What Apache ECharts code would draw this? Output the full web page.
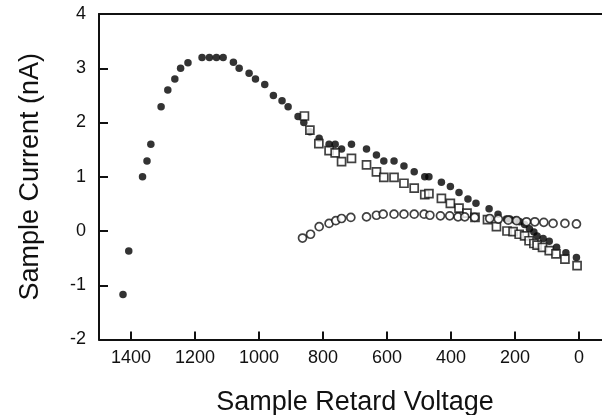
<!DOCTYPE html>
<html>
<head>
<meta charset="utf-8">
<script src="https://cdn.jsdelivr.net/npm/echarts@6/dist/echarts.min.js"></script>
<style>html,body{margin:0;padding:0;background:#fff;}#c{width:602px;height:415px;}</style>
</head>
<body>
<div id="c"></div>
<script>
// Series A (filled circles)
var aVolt = [1425,1407,1364,1350,1338,1306,1285,1263,1245,1222,1178,1155,1133,1112,1080,1062,1031,1011,982,955,928,909,878,860,841,812,781,762,742,711,664,633,610,578,547,515,482,469,430,402,375,347,322,281,253,227,216,200,185,170,155,141,131,112,93,70,41,8];
var aCurr = [-1.17,-0.37,1.0,1.29,1.6,2.29,2.6,2.8,3.0,3.1,3.2,3.2,3.2,3.2,3.11,3.0,2.91,2.8,2.7,2.5,2.4,2.29,2.11,2.0,1.83,1.71,1.6,1.6,1.51,1.6,1.51,1.4,1.29,1.29,1.2,1.09,1.0,1.0,0.9,0.82,0.71,0.59,0.51,0.41,0.31,0.22,0.22,0.2,0.17,0.12,0.04,-0.02,-0.09,-0.14,-0.19,-0.3,-0.4,-0.49];
// Series B (open squares)
var bVolt = [858,841,813,781,762,742,711,664,633,610,578,547,515,482,469,430,402,375,350,325,286,258,225,206,187,170,156,141,131,114,93,72,44,6];
var bCurr = [2.12,1.86,1.61,1.48,1.44,1.28,1.34,1.22,1.09,0.99,0.99,0.88,0.79,0.67,0.69,0.6,0.51,0.42,0.33,0.25,0.21,0.08,0.0,-0.01,-0.06,-0.09,-0.18,-0.23,-0.26,-0.3,-0.36,-0.42,-0.52,-0.64];
// Series C (open circles)
var cVolt = [864,839,812,781,760,742,713,664,633,612,578,547,515,484,466,433,404,378,357,326,279,252,221,195,164,138,110,81,44,8];
var cCurr = [-0.13,-0.06,0.08,0.14,0.19,0.23,0.25,0.26,0.29,0.31,0.31,0.31,0.31,0.31,0.29,0.28,0.28,0.26,0.26,0.25,0.23,0.22,0.2,0.19,0.17,0.17,0.16,0.14,0.14,0.13];
// Axis ticks
var xTicks = [0,200,400,600,800,1000,1200,1400];
var yTicks = [-2,-1,0,1,2,3,4];

function zip(xs, ys){ return xs.map(function(x,i){ return [x, ys[i]]; }); }

var FONT = '"Liberation Sans", Arial, sans-serif';
var chart = echarts.init(document.getElementById('c'), null, {renderer:'canvas'});
var axisLineStyle = {color:'#111', width:2};
chart.setOption({
  animation:false,
  backgroundColor:'#fff',
  grid:{left:99, top:14, width:512, height:325.5, containLabel:false, outerBoundsMode:'none'},
  xAxis:[{
    type:'value', inverse:true, min:-100, max:1500,
    name:'Sample Retard Voltage', nameLocation:'middle', nameGap:50,
    nameTextStyle:{fontFamily:FONT, fontSize:27, color:'#111'},
    axisLine:{show:true, onZero:false, lineStyle:axisLineStyle},
    axisTick:{show:true, inside:true, length:8, lineStyle:axisLineStyle, customValues:xTicks},
    axisLabel:{fontFamily:FONT, fontSize:18, color:'#111', margin:10, customValues:xTicks,
      formatter:function(v){ return String(v); }},
    splitLine:{show:false}
  },{
    type:'value', inverse:true, min:-100, max:1500, position:'top',
    axisLine:{show:true, onZero:false, lineStyle:axisLineStyle},
    axisTick:{show:false}, axisLabel:{show:false}, splitLine:{show:false}
  }],
  yAxis:[{
    type:'value', min:-2, max:4, interval:1,
    name:'Sample Current (nA)', nameLocation:'middle', nameGap:55,
    nameTextStyle:{fontFamily:FONT, fontSize:27, color:'#111'},
    axisLine:{show:true, onZero:false, lineStyle:axisLineStyle},
    axisTick:{show:true, inside:true, length:9, lineStyle:axisLineStyle},
    axisLabel:{fontFamily:FONT, fontSize:18, color:'#111', margin:13,
      formatter:function(v){ return String(v); }},
    splitLine:{show:false}
  },{
    type:'value', min:-2, max:4, interval:1, position:'right',
    axisLine:{show:true, onZero:false, lineStyle:axisLineStyle},
    axisTick:{show:true, inside:true, length:9, lineStyle:axisLineStyle},
    axisLabel:{show:false},
    splitLine:{show:false}
  }],
  series:[
    {type:'scatter', data:zip(aVolt,aCurr), symbol:'circle', symbolSize:7.5,
     itemStyle:{color:'#000'}},
    {type:'scatter', data:zip(bVolt,bCurr), symbol:'rect', symbolSize:8,
     itemStyle:{color:'#fff', borderColor:'#111', borderWidth:1.7}},
    {type:'scatter', data:zip(cVolt,cCurr), symbol:'circle', symbolSize:8,
     itemStyle:{color:'#fff', borderColor:'#111', borderWidth:1.7}}
  ]
});
</script>
</body>
</html>
